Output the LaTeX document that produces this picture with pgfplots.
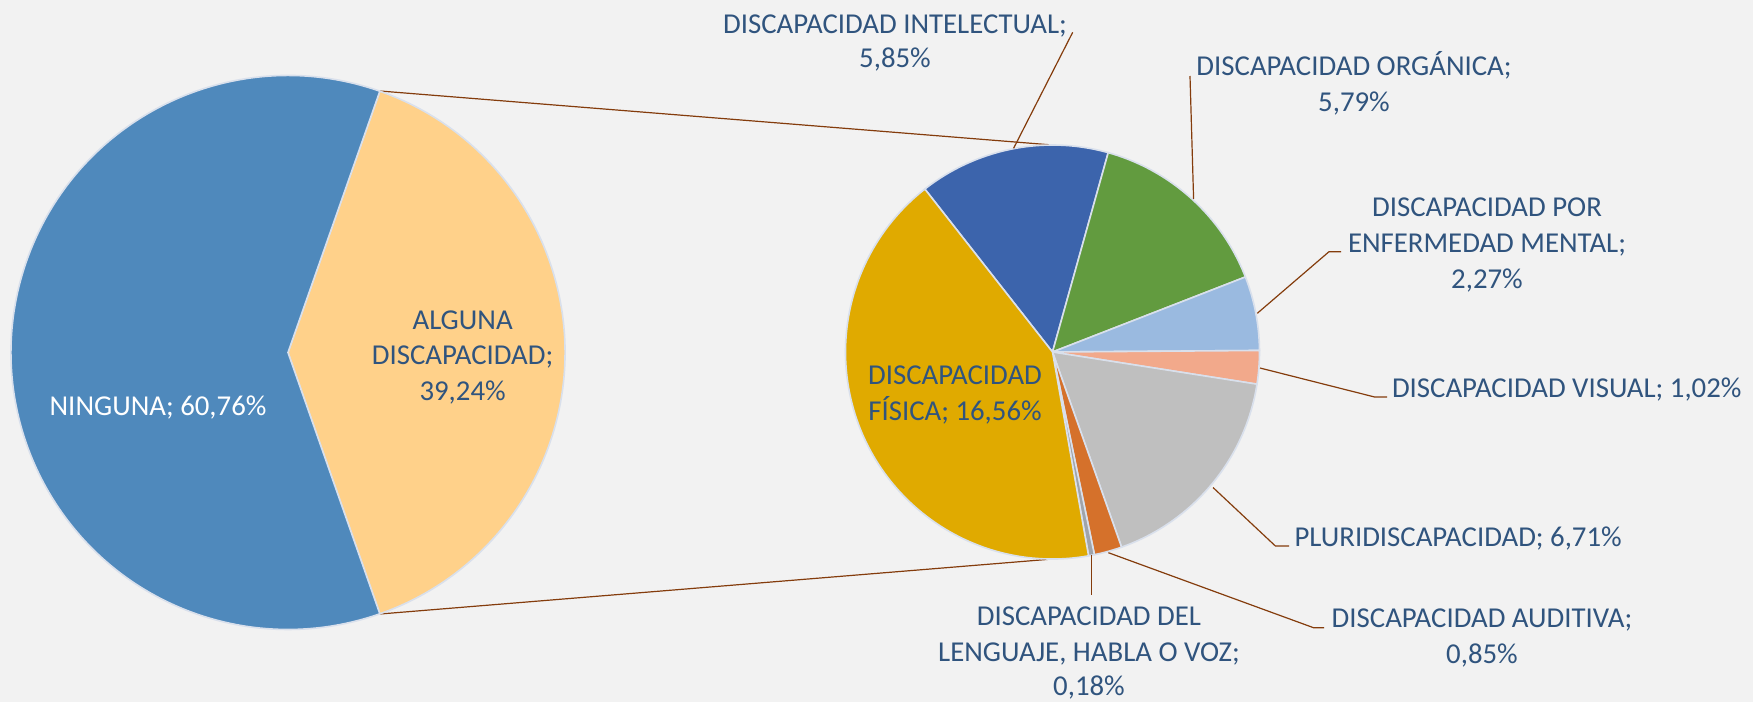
\documentclass[border=0pt]{standalone}
\usepackage{pgfplots}
\pgfplotsset{compat=1.18}
\usepackage{fontspec}
\setmainfont{Carlito}
\definecolor{bg}{HTML}{F2F2F2}
\definecolor{edge}{HTML}{D9E0EC}
\definecolor{lead}{HTML}{843C0C}
\definecolor{txt}{HTML}{30547E}
\definecolor{cNinguna}{HTML}{4F89BC}
\definecolor{cAlguna}{HTML}{FFD18A}
\definecolor{cIntel}{HTML}{3C64AC}
\definecolor{cOrg}{HTML}{629B3F}
\definecolor{cMent}{HTML}{9ABAE0}
\definecolor{cVis}{HTML}{F2A98B}
\definecolor{cPluri}{HTML}{BFBFBF}
\definecolor{cAud}{HTML}{D5712B}
\definecolor{cLeng}{HTML}{A0A4AA}
\definecolor{cFis}{HTML}{E0AA00}
\tikzset{
  lab/.style={inner sep=0pt, outer sep=0pt, text=txt, anchor=base,
    font=\fontsize{14.4}{17.75}\selectfont},
  ldr/.style={draw=lead, line width=0.6pt},
  slice/.style={draw=edge, line width=0.8pt, line join=round},
}
\begin{document}
\begin{tikzpicture}
\begin{axis}[
    scale only axis,
    width=876.5pt, height=351pt,
    xmin=0, xmax=1753, ymin=0, ymax=702,
    y dir=reverse,
    hide axis, clip=false,
]
\pgfplotsextra{
  \coordinate (bl) at (axis cs:0,702);
  \coordinate (tr) at (axis cs:1753,0);
  \fill[bg] (axis cs:0,0) rectangle (axis cs:1753,702);
  % lines joining the two pies
  \draw[ldr] (axis cs:380,91) -- (axis cs:1052.5,145);
  \draw[ldr] (axis cs:380,614) -- (axis cs:1052.5,559);
  % main pie: Alguna, Ninguna (counterclockwise)
  \xdef\ang{-70.632}
  \foreach \v/\c in {39.24/cAlguna, 60.76/cNinguna}{
    \pgfmathsetmacro\aend{\ang+\v*3.6}
    \filldraw[slice, fill=\c] (axis cs:288,352.5) -- ++(\ang:138.5pt)
      arc[start angle=\ang, end angle=\aend, radius=138.5pt] -- cycle;
    \xdef\ang{\aend}
  }
  % second pie: breakdown of Alguna (clockwise)
  \xdef\ang{128.07}
  \foreach \v/\c in {5.85/cIntel, 5.79/cOrg, 2.27/cMent, 1.02/cVis,
                     6.71/cPluri, 0.85/cAud, 0.18/cLeng, 16.56/cFis}{
    \pgfmathsetmacro\aend{\ang-\v/39.23*360}
    \filldraw[slice, fill=\c] (axis cs:1052.5,352) -- ++(\ang:103.5pt)
      arc[start angle=\ang, end angle=\aend, radius=103.5pt] -- cycle;
    \xdef\ang{\aend}
  }
  % leader lines
  \draw[ldr] (axis cs:1072.7,32.3) -- (axis cs:1013.6,148.3);
  \draw[ldr] (axis cs:1190,76) -- (axis cs:1193.6,199);
  \draw[ldr] (axis cs:1341,251.7) -- (axis cs:1329,251.7) -- (axis cs:1257.3,313.3);
  \draw[ldr] (axis cs:1387,397) -- (axis cs:1374.6,397) -- (axis cs:1260,368);
  \draw[ldr] (axis cs:1289,546) -- (axis cs:1275.4,546) -- (axis cs:1213,487.5);
  \draw[ldr] (axis cs:1324,627.7) -- (axis cs:1313.5,627.7) -- (axis cs:1108.4,552.7);
  \draw[ldr] (axis cs:1091.5,555) -- (axis cs:1091.5,595);
  % labels
  \node[lab, text=white] at (axis cs:158,415) {NINGUNA; 60,76\%};
  \node[lab] at (axis cs:462.6,329) {ALGUNA};
  \node[lab] at (axis cs:462.6,364.3) {DISCAPACIDAD;};
  \node[lab] at (axis cs:462.6,400) {39,24\%};
  \node[lab] at (axis cs:895,33.3) {DISCAPACIDAD INTELECTUAL;};
  \node[lab] at (axis cs:895,67.7) {5,85\%};
  \node[lab] at (axis cs:1354,75) {DISCAPACIDAD ORGÁNICA;};
  \node[lab] at (axis cs:1354,111.7) {5,79\%};
  \node[lab] at (axis cs:1487,216.7) {DISCAPACIDAD POR};
  \node[lab] at (axis cs:1487,252.7) {ENFERMEDAD MENTAL;};
  \node[lab] at (axis cs:1487,288.3) {2,27\%};
  \node[lab, anchor=base west] at (axis cs:1392,397) {DISCAPACIDAD VISUAL; 1,02\%};
  \node[lab, anchor=base west] at (axis cs:1294.5,546) {PLURIDISCAPACIDAD; 6,71\%};
  \node[lab] at (axis cs:1482,627.7) {DISCAPACIDAD AUDITIVA;};
  \node[lab] at (axis cs:1482,663.3) {0,85\%};
  \node[lab] at (axis cs:1089,625) {DISCAPACIDAD DEL};
  \node[lab] at (axis cs:1089,661.7) {LENGUAJE, HABLA O VOZ;};
  \node[lab] at (axis cs:1089,695.7) {0,18\%};
  \node[lab] at (axis cs:955,384) {DISCAPACIDAD};
  \node[lab] at (axis cs:955,420) {FÍSICA; 16,56\%};
}
\end{axis}
\pgfresetboundingbox
\path[use as bounding box] (bl) rectangle (tr);
\end{tikzpicture}
\end{document}
